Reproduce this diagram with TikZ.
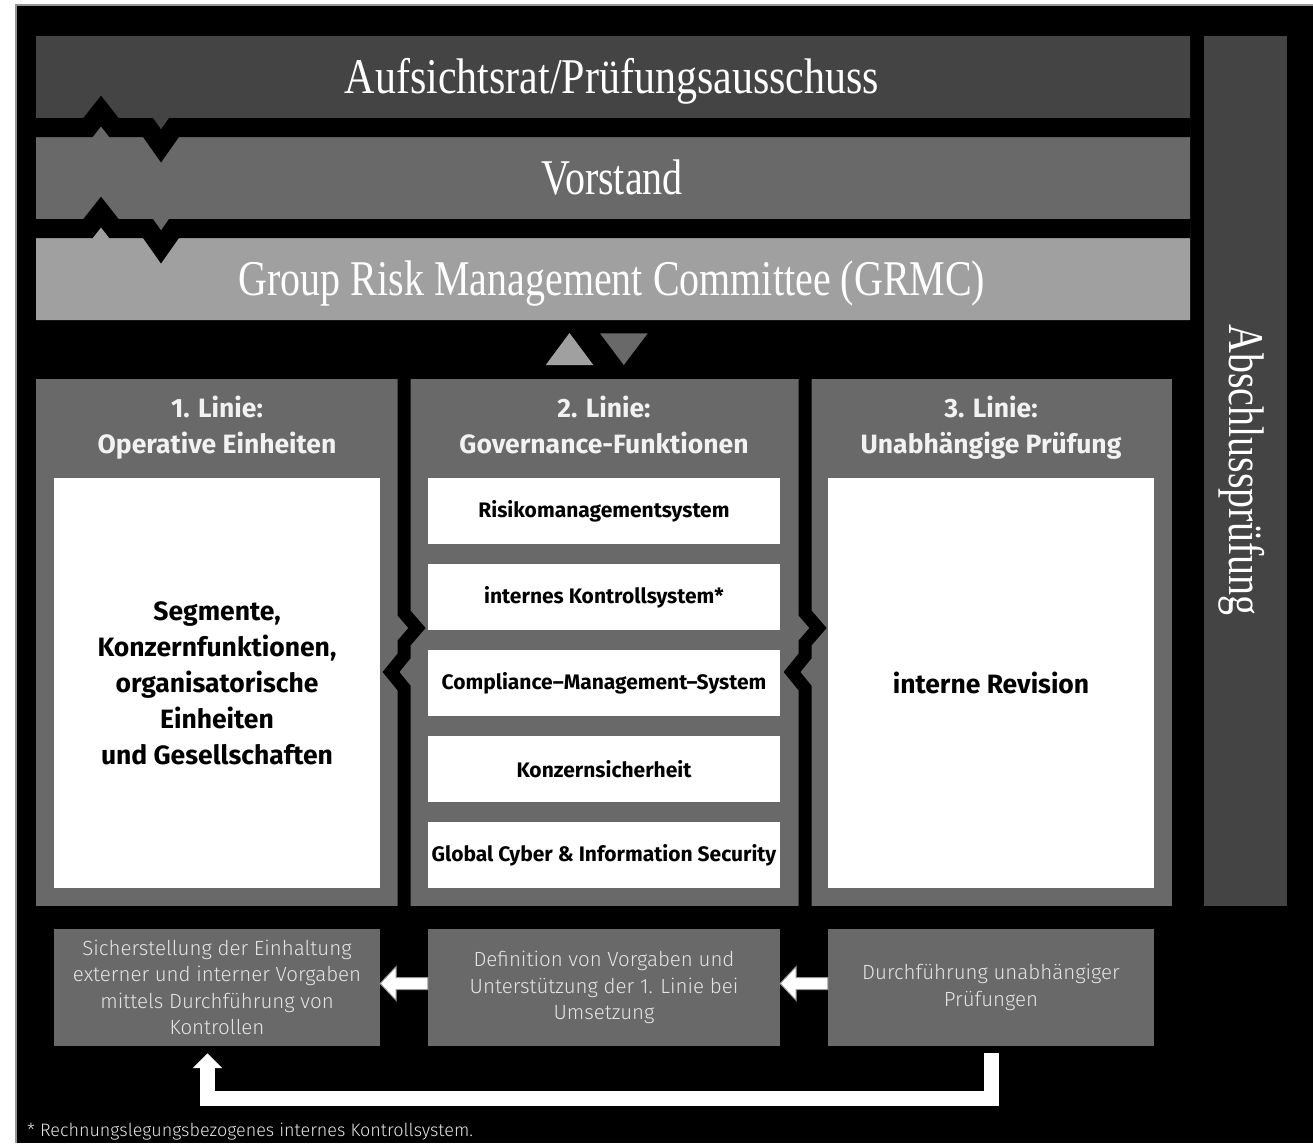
\documentclass[tikz,border=0pt]{standalone}
\usepackage{fontspec}
\setmainfont{Liberation Serif}
\setsansfont{Fira Sans}
\IfFontExistsTF{Fira Sans Light}{\newfontfamily\lightsans{Fira Sans Light}}{\newfontfamily\lightsans{Fira Sans}}
\newfontfamily\condserif{Liberation Serif}[FakeStretch=0.8]
\newfontfamily\condserifb{Liberation Serif}[FakeStretch=0.84]
\usetikzlibrary{arrows.meta,calc}
\definecolor{gA}{RGB}{68,68,68}
\definecolor{gB}{RGB}{105,105,105}
\definecolor{gC}{RGB}{160,160,160}
\definecolor{lighttxt}{RGB}{228,228,228}
\definecolor{titletxt}{RGB}{242,242,242}
\definecolor{frameline}{RGB}{150,150,150}
\begin{document}
\begin{tikzpicture}[x=1pt,y=-1pt,
  bandtext/.style={text=white,inner sep=0pt,anchor=base,font=\condserif\fontsize{50}{56}\selectfont},
  coltitle/.style={text=titletxt,align=center,inner sep=0pt,font=\sffamily\bfseries\fontsize{26.5}{36}\selectfont},
  wbox/.style={fill=white,inner sep=0pt,align=center,text=black,font=\sffamily\bfseries\fontsize{26.5}{36}\selectfont},
  sbox/.style={fill=white,inner sep=0pt,align=center,text=black,minimum width=352pt,minimum height=66pt,font=\sffamily\bfseries\fontsize{21}{24}\selectfont},
  gbox/.style={fill=gB,inner sep=0pt,align=center,text=lighttxt,minimum height=117pt,font=\lightsans\fontsize{20.5}{26.5}\selectfont},
  zig/.style={draw=black,line join=miter,miter limit=10,line cap=butt},
  barrow/.style={fill=white,draw=frameline,line width=1pt,line join=miter}]
\useasboundingbox (0,0) rectangle (1313,1143);
\fill[white] (0,0) rectangle (1313,1143);
\fill[black] (16,5) rectangle (1313,1143);
\draw[frameline,line width=1.5pt] (16,1143) -- (16,5) -- (1313,5);

% top bands
\fill[gA] (36,36) -- (1190,36) -- (1190,127.5) -- (174,127.5) -- (161,146) -- (148,127.5) -- (114,127.5) -- (101,111) -- (88,127.5) -- (36,127.5) -- cycle;
\fill[gB] (36,127.5) -- (88,127.5) -- (101,111) -- (114,127.5) -- (148,127.5) -- (161,146) -- (174,127.5) -- (1190,127.5)
  -- (1190,228.5) -- (174,228.5) -- (161,247) -- (148,228.5) -- (114,228.5) -- (101,212) -- (88,228.5) -- (36,228.5) -- cycle;
\fill[gC] (36,228.5) -- (88,228.5) -- (101,212) -- (114,228.5) -- (148,228.5) -- (161,247) -- (174,228.5) -- (1190,228.5) -- (1190,320) -- (36,320) -- cycle;
\draw[zig,line width=19pt] (36,127.5) -- (88,127.5) -- (101,111) -- (114,127.5) -- (148,127.5) -- (161,146) -- (174,127.5) -- (1190,127.5);
\draw[zig,line width=19pt] (36,228.5) -- (88,228.5) -- (101,212) -- (114,228.5) -- (148,228.5) -- (161,247) -- (174,228.5) -- (1190,228.5);

\node[bandtext,font=\condserifb\fontsize{50}{56}\selectfont] (aufs) at (612,93) {Aufsichtsrat/Prüfungsausschuss};
\node[bandtext] (vorst) at (612,194) {Vorstand};
\node[bandtext] (grmc) at (612,295) {Group Risk Management Committee (GRMC)};

% Abschlusspruefung
\fill[gA] (1204,36) rectangle (1287,906);
\node[bandtext,rotate=-90] (absch) at (1229,470) {Abschlussprüfung};

% triangles
\fill[gC] (545.7,365) -- (593.3,365) -- (569.5,333) -- cycle;
\fill[gB] (600,333.3) -- (647.7,333.3) -- (623.8,365) -- cycle;

% columns
\fill[gB] (36,379) rectangle (1171.7,906);
\draw[zig,line width=13pt] (404,379) -- (404,613) -- (417,628) -- (404,643) -- (404,656) -- (391,672) -- (404,688) -- (404,906);
\draw[zig,line width=13pt] (805,379) -- (805,613) -- (818,628) -- (805,643) -- (805,656) -- (792,672) -- (805,688) -- (805,906);

\node[coltitle] (t1) at (217,428) {1. Linie:\strut\\Operative Einheiten\strut};
\node[coltitle] (t2) at (604,428) {2. Linie:\strut\\Governance-Funktionen\strut};
\node[coltitle] (t3) at (991,428) {3. Linie:\strut\\Unabhängige Prüfung\strut};

\node[wbox,minimum width=326pt,minimum height=410pt] (seg) at (217,683)
  {Segmente,\\Konzernfunktionen,\\organisatorische\\Einheiten\\und Gesellschaften};
\node[sbox] (r1) at (604,511) {Risikomanagementsystem};
\node[sbox] (r2) at (604,597) {internes Kontrollsystem*};
\node[sbox] (r3) at (604,683) {Compliance–Management–System};
\node[sbox] (r4) at (604,769) {Konzernsicherheit};
\node[sbox] (r5) at (604,855) {Global Cyber \& Information Security};
\node[wbox,minimum width=326pt,minimum height=410pt] (rev) at (991,683) {interne Revision};

% bottom boxes
\node[gbox,minimum width=326pt] (A) at (217,987.5)
  {Sicherstellung der Einhaltung\\externer und interner Vorgaben\\mittels Durchführung von\\Kontrollen};
\node[gbox,minimum width=352pt] (B) at (604,987.5)
  {Definition von Vorgaben und\\Unterstützung der 1. Linie bei\\Umsetzung};
\node[gbox,minimum width=326pt] (C) at (991,987.5)
  {Durchführung unabhängiger\\Prüfungen};

% block arrows
\coordinate (tipA) at ($(A.east)+(0,-4)$);
\draw[barrow] (tipA) -- ++(16,-17) -- ++(0,11) -- ($(B.west)+(0,-10)$) -- ($(B.west)+(0,2)$) -- ($(tipA)+(16,6)$) -- ($(tipA)+(16,17)$) -- cycle;
\coordinate (tipB) at ($(B.east)+(0,-4)$);
\draw[barrow] (tipB) -- ++(16,-17) -- ++(0,11) -- ($(C.west)+(0,-10)$) -- ($(C.west)+(0,2)$) -- ($(tipB)+(16,6)$) -- ($(tipB)+(16,17)$) -- cycle;

% feedback loop
\draw[white,line width=15pt,line join=miter,line cap=butt,-{Triangle[width=29pt,length=15pt]}]
  ($(C.south)+(0.5,7)$) -- ++(0,45.5) -| ($(A.south)+(-9.5,7)$);

\node[anchor=west,inner sep=0pt,text=lighttxt,font=\lightsans\fontsize{18}{20}\selectfont] (fn) at (27,1132)
  {* Rechnungslegungsbezogenes internes Kontrollsystem.};
\end{tikzpicture}
\end{document}
